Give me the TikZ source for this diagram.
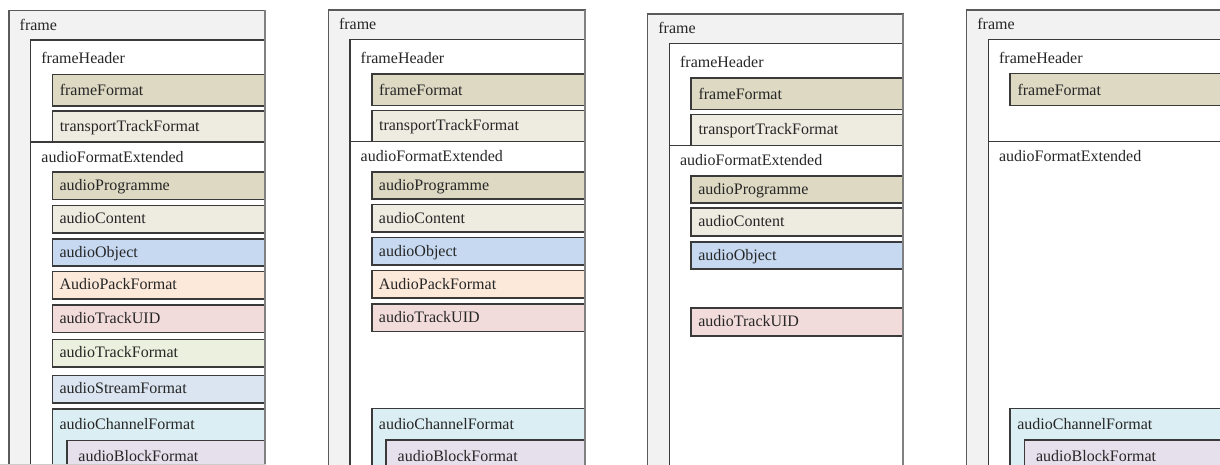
\documentclass[tikz,border=0pt]{standalone}
\usepackage{fontspec}
\setmainfont{Liberation Serif}
\definecolor{framefill}{HTML}{F2F2F2}
\definecolor{frameline}{HTML}{5A5A5A}
\definecolor{boxline}{HTML}{3A3A3A}
\definecolor{edgeline}{HTML}{808080}
\definecolor{textcol}{HTML}{262626}
\definecolor{ctan}{HTML}{DDD9C3}
\definecolor{clight}{HTML}{EEECE1}
\definecolor{cobj}{HTML}{C6D9F1}
\definecolor{cpack}{HTML}{FDE9D9}
\definecolor{cuid}{HTML}{F2DCDB}
\definecolor{ctrack}{HTML}{EBF1DE}
\definecolor{cstream}{HTML}{DBE5F1}
\definecolor{cchan}{HTML}{DAEEF3}
\definecolor{cblock}{HTML}{E5E0EC}
\newcommand\lbfont{\fontsize{16}{18}\selectfont}
\tikzset{
  framebox/.style={draw=frameline, line width=1.4pt, fill=framefill},
  hdrbox/.style={draw=boxline, line width=1.5pt, fill=white},
  itembox/.style={draw=boxline, line width=1.7pt},
  lbl/.style={anchor=base west, inner sep=0pt, font=\lbfont, text=textcol},
  edge/.style={draw=edgeline, line width=2pt},
}
% #1 name, #2 fill, #3 top, #4 bottom, #5 text, #6 left, #7 text x, #8 text baseline
\newcommand\ibox[8]{%
  \path[itembox, fill=#2] (#6,#3) rectangle (\R,#4);
  \node[lbl] (#1) at (#7,#8) {#5};}
% slot macro: #1 name, #2 fill, #3 top, #4 text
\newcommand\slotbox[4]{%
  \ibox{#1}{#2}{#3}{#3+27.5}{#4}{43.4}{50.4}{#3+18.5}}
\newcommand\panelbase[1]{%
  \path[framebox] (0,10) rectangle (\R,490);
  \node[lbl] (#1frame) at (10.5,30) {frame};
  \path[hdrbox] (21.7,39.5) rectangle (\R,141.7);
  \node[lbl] (#1hdr) at (32.2,63.3) {frameHeader};}
\newcommand\panelafe[1]{%
  \path[hdrbox] (21.7,141.7) rectangle (\R,490);
  \node[lbl] (#1afe) at (32.2,161.7) {audioFormatExtended};}
\newcommand\panelchan[1]{%
  \ibox{#1chan}{cchan}{408.5}{490}{audioChannelFormat}{43.4}{50.4}{429.5}
  \ibox{#1block}{cblock}{440}{490}{audioBlockFormat}{57.7}{69.2}{461.5}}
\begin{document}
\begin{tikzpicture}[x=1pt,y=-1pt]
\useasboundingbox (0,0) rectangle (1220,465);
\clip (0,0) rectangle (1220,465);
% panel 1
\begin{scope}[shift={(9,0.4)}]
  \def\R{256}
  \panelbase{a}
  \ibox{aff}{ctan}{74}{105.5}{frameFormat}{43.4}{50.6}{95.5}
  \ibox{attf}{clight}{110.5}{141.7}{transportTrackFormat}{43.4}{50.6}{131}
  \panelafe{a}
  \slotbox{aprog}{ctan}{171.7}{audioProgramme}
  \slotbox{acont}{clight}{205}{audioContent}
  \slotbox{aobj}{cobj}{238.3}{audioObject}
  \slotbox{apack}{cpack}{271}{AudioPackFormat}
  \slotbox{auid}{cuid}{304.5}{audioTrackUID}
  \slotbox{atrack}{ctrack}{339}{audioTrackFormat}
  \slotbox{astream}{cstream}{375}{audioStreamFormat}
  \panelchan{a}
  \draw[edge] (\R,10) -- (\R,490);
\end{scope}
\draw[draw=black!20, line width=0.8pt] (0,464.2) -- (266,464.2);
% panel 2
\begin{scope}[shift={(328.3,0)}]
  \def\R{256.7}
  \panelbase{b}
  \ibox{bff}{ctan}{74}{105.5}{frameFormat}{43.4}{50.6}{95.5}
  \ibox{bttf}{clight}{110.5}{141.7}{transportTrackFormat}{43.4}{50.6}{131}
  \panelafe{b}
  \slotbox{bprog}{ctan}{171.7}{audioProgramme}
  \slotbox{bcont}{clight}{204.5}{audioContent}
  \slotbox{bobj}{cobj}{237.5}{audioObject}
  \slotbox{bpack}{cpack}{270.5}{AudioPackFormat}
  \slotbox{buid}{cuid}{304}{audioTrackUID}
  \panelchan{b}
  \draw[edge] (\R,10) -- (\R,490);
\end{scope}
% panel 3
\begin{scope}[shift={(647.7,4)}]
  \def\R{255.6}
  \panelbase{c}
  \ibox{cff}{ctan}{74}{105.5}{frameFormat}{43.4}{50.6}{95.5}
  \ibox{cttf}{clight}{110.5}{141.7}{transportTrackFormat}{43.4}{50.6}{131}
  \panelafe{c}
  \slotbox{cprog}{ctan}{171.7}{audioProgramme}
  \slotbox{ccont}{clight}{204.3}{audioContent}
  \slotbox{cobj}{cobj}{237.7}{audioObject}
  \slotbox{cuid}{cuid}{304.3}{audioTrackUID}
  \draw[edge] (\R,10) -- (\R,490);
\end{scope}
% panel 4
\begin{scope}[shift={(966.7,0)}]
  \def\R{262}
  \panelbase{d}
  \ibox{dff}{ctan}{73.5}{105.5}{frameFormat}{43.4}{50.6}{95.5}
  \panelafe{d}
  \panelchan{d}
\end{scope}
\end{tikzpicture}
\end{document}
